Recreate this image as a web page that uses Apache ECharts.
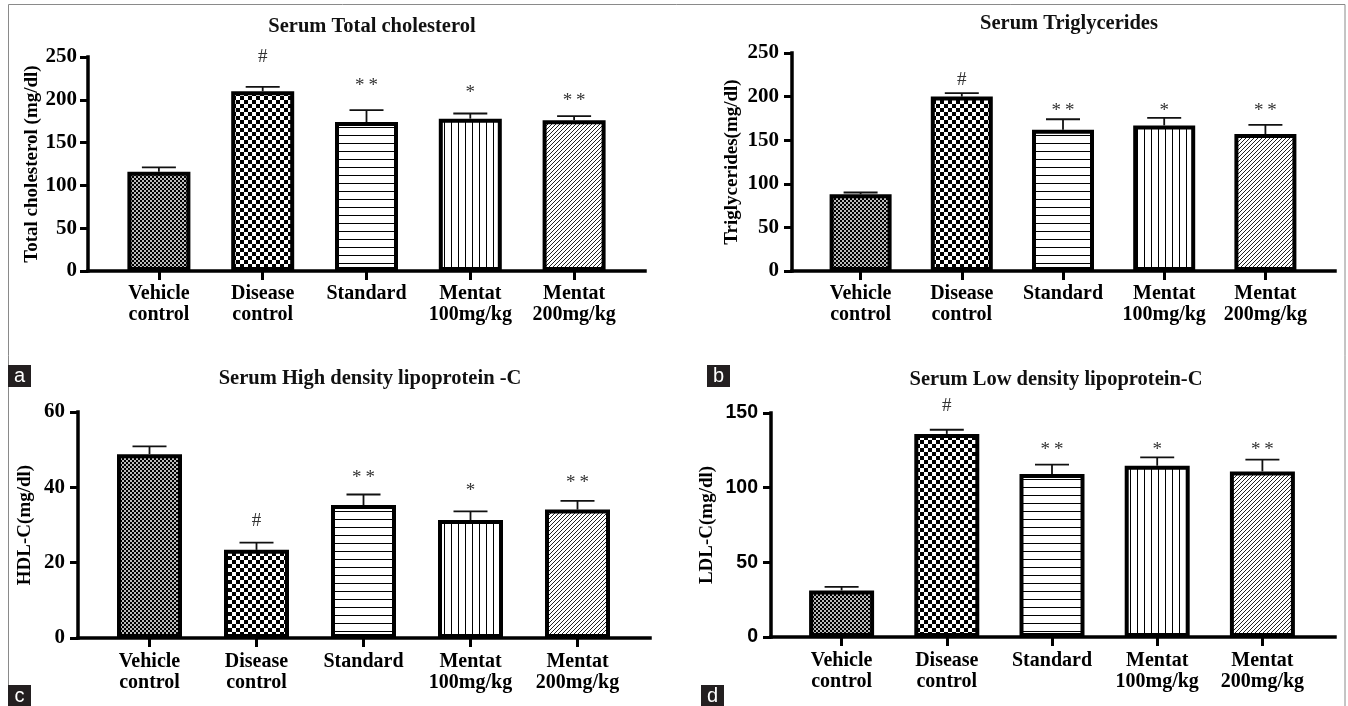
<!DOCTYPE html>
<html><head><meta charset="utf-8">
<script src="https://cdn.jsdelivr.net/npm/echarts@6/dist/echarts.min.js"></script>
<style>html,body{margin:0;padding:0;background:#fff}#c{width:1348px;height:706px}</style>
</head><body><div id="c"></div>
<script>
// ---------- data ----------
const categories = ['Vehicle\ncontrol', 'Disease\ncontrol', 'Standard', 'Mentat\n100mg/kg', 'Mentat\n200mg/kg'];
const sigMarks = ['', '#', '**', '*', '**'];

const tcTitle = 'Serum Total cholesterol';
const tcAxisName = 'Total cholesterol (mg/dl)';
const tcTicks = [0, 50, 100, 150, 200, 250];
const tcMean = [116, 210, 174, 178, 176];
const tcSem = [5, 5, 14, 6, 5];
const tcSigY = [null, 250, 221, 213, 203];

const tgTitle = 'Serum Triglycerides';
const tgAxisName = 'Triglycerides(mg/dl)';
const tgTicks = [0, 50, 100, 150, 200, 250];
const tgMean = [88, 200, 162, 167, 157];
const tgSem = [2, 4, 12, 8.5, 10.5];
const tgSigY = [null, 219, 188, 188, 188];

const hdlTitle = 'Serum High density lipoprotein -C';
const hdlAxisName = 'HDL-C(mg/dl)';
const hdlTicks = [0, 20, 40, 60];
const hdlMean = [48.8, 23.4, 35.3, 31.3, 34.1];
const hdlSem = [2.1, 1.9, 2.8, 2.3, 2.3];
const hdlSigY = [null, 31.1, 43.5, 40.1, 42.3];

const ldlTitle = 'Serum Low density lipoprotein-C';
const ldlAxisName = 'LDL-C(mg/dl)';
const ldlTicks = [0, 50, 100, 150];
const ldlMean = [31.2, 136, 109.2, 114.7, 110.9];
const ldlSem = [2.3, 2.8, 6.2, 5.6, 7.9];
const ldlSigY = [null, 154.5, 128, 128, 128];

// ---------- patterns ----------
function makePattern(size, draw) {
  const c = document.createElement('canvas');
  c.width = c.height = size;
  const g = c.getContext('2d');
  g.fillStyle = '#fff'; g.fillRect(0, 0, size, size);
  draw(g, size);
  return { image: c, repeat: 'repeat' };
}
const patterns = [
  makePattern(4, g => { g.fillStyle = '#bbb'; g.fillRect(0,0,4,4); g.fillStyle = '#000'; g.fillRect(0,0,2,2); g.fillRect(2,2,2,2); }),
  makePattern(8, g => { g.fillStyle = '#000'; g.fillRect(0,0,4,4); g.fillRect(4,4,4,4); }),
  makePattern(8, g => { g.fillStyle = '#000'; g.fillRect(0,7,8,1); }),
  makePattern(7, g => { g.fillStyle = '#000'; g.fillRect(3,0,1,7); }),
  makePattern(4, g => { g.fillStyle = '#222'; for (let i = 0; i < 4; i++) g.fillRect(i, 3 - i, 1, 1); })
];

const SERIF = 'Liberation Serif';
const SANS = 'Liberation Sans';

// ---------- layout per panel ----------
const panels = [
  { title: tcTitle, titleX: 367, titleY: 11, name: tcAxisName, ticks: tcTicks, mean: tcMean, sem: tcSem, sigY: tcSigY,
    ax: {left: 88, top: 57, width: 557, height: 214}, bx: {left: 107, width: 519}, barWidth: 63, nameGap: 46, labelMargin: 11, tickFont: SERIF, tickSize: 21, xMargin: 12 },
  { title: tgTitle, titleX: 1064, titleY: 8, name: tgAxisName, ticks: tgTicks, mean: tgMean, sem: tgSem, sigY: tgSigY,
    ax: {left: 792, top: 53, width: 543, height: 218}, bx: {left: 810, width: 506}, barWidth: 62, nameGap: 50, labelMargin: 13, tickFont: SERIF, tickSize: 21, xMargin: 12 },
  { title: hdlTitle, titleX: 365, titleY: 363, name: hdlAxisName, ticks: hdlTicks, mean: hdlMean, sem: hdlSem, sigY: hdlSigY,
    ax: {left: 78, top: 412, width: 572, height: 226}, bx: {left: 96, width: 535}, barWidth: 65, nameGap: 43, labelMargin: 13, tickFont: SERIF, tickSize: 21, xMargin: 13 },
  { title: ldlTitle, titleX: 1051, titleY: 364, name: ldlAxisName, ticks: ldlTicks, mean: ldlMean, sem: ldlSem, sigY: ldlSigY,
    ax: {left: 771, top: 413, width: 564, height: 224}, bx: {left: 789, width: 526}, barWidth: 65, nameGap: 54, labelMargin: 13, tickFont: SANS, tickSize: 19.5, xMargin: 13 }
];

const grid = [], xAxis = [], yAxis = [], series = [], title = [];
const black = '#000';

panels.forEach((p, k) => {
  const a = k * 2, b = k * 2 + 1;
  const ymin = p.ticks[0], ymax = p.ticks[p.ticks.length - 1], step = p.ticks[1] - p.ticks[0];
  title.push({ text: p.title, left: p.titleX, top: p.titleY, textAlign: 'center',
    textStyle: { fontFamily: SERIF, fontWeight: 'bold', fontSize: 20.5, color: '#111' } });
  grid.push({ left: p.ax.left, top: p.ax.top, width: p.ax.width, height: p.ax.height, containLabel: false });
  grid.push({ left: p.bx.left, top: p.ax.top, width: p.bx.width, height: p.ax.height, containLabel: false });
  // axis frame grid
  xAxis.push({ type: 'value', gridIndex: a, min: 0, max: 1,
    axisLine: { show: true, onZero: false, lineStyle: { color: black, width: 3.5, cap: 'square' } },
    axisTick: { show: false }, axisLabel: { show: false }, splitLine: { show: false } });
  yAxis.push({ type: 'value', gridIndex: a, min: ymin, max: ymax, interval: step,
    axisLine: { show: true, lineStyle: { color: black, width: 3.5, cap: 'square' } },
    axisTick: { show: true, length: 8, lineStyle: { color: black, width: 3 } },
    axisLabel: { margin: p.labelMargin, fontFamily: p.tickFont, fontWeight: 'bold', fontSize: p.tickSize, color: black },
    splitLine: { show: false },
    name: p.name, nameLocation: 'middle', nameGap: p.nameGap,
    nameTextStyle: { fontFamily: SERIF, fontWeight: 'bold', fontSize: 19, color: black } });
  // bar grid
  xAxis.push({ type: 'category', gridIndex: b, data: categories, boundaryGap: true,
    axisLine: { show: false },
    axisTick: { show: true, alignWithLabel: true, length: 9, lineStyle: { color: black, width: 3 } },
    axisLabel: { interval: 0, margin: p.xMargin, fontFamily: SERIF, fontWeight: 'bold', fontSize: 20, lineHeight: 21, color: black } });
  yAxis.push({ type: 'value', gridIndex: b, min: ymin, max: ymax, show: false });

  series.push({ type: 'bar', xAxisIndex: b, yAxisIndex: b, barWidth: p.barWidth, z: 3, silent: true,
    itemStyle: { borderColor: black, borderWidth: 4 },
    data: p.mean.map((v, i) => ({ value: v, itemStyle: { color: patterns[i] } })) });

  series.push({ type: 'custom', xAxisIndex: b, yAxisIndex: b, z: 2, silent: true,
    data: p.mean.map((m, i) => [i, m, m + p.sem[i]]),
    encode: { x: 0, y: [1, 2] },
    renderItem: (params, api) => {
      const x = api.value(0);
      const lo = api.coord([x, api.value(1)]);
      const hi = api.coord([x, api.value(2)]);
      const hw = 17;
      return { type: 'group', children: [
        { type: 'line', shape: { x1: lo[0], y1: lo[1], x2: hi[0], y2: hi[1] }, style: { stroke: '#111', lineWidth: 1.8 } },
        { type: 'line', shape: { x1: hi[0] - hw, y1: hi[1], x2: hi[0] + hw, y2: hi[1] }, style: { stroke: '#111', lineWidth: 1.8 } }
      ]};
    } });

  const sigData = [];
  p.sigY.forEach((y, i) => { if (y !== null && sigMarks[i]) sigData.push([i, y]); });
  series.push({ type: 'custom', xAxisIndex: b, yAxisIndex: b, z: 5, silent: true, clip: false,
    data: sigData, encode: { x: 0, y: 1 },
    renderItem: (params, api) => {
      const i = api.value(0);
      const t = sigMarks[i];
      const pt = api.coord([i, api.value(1)]);
      const star = t.indexOf('*') >= 0;
      return { type: 'text', x: pt[0], y: pt[1] + (star ? 4 : 0),
        style: { text: star ? t.split('').join('\u2009') : t, fontFamily: SERIF, fontSize: 19, fill: '#333', align: 'center', verticalAlign: 'middle' } };
    } });
});

function letterBox(ch, x, y, h) {
  return { type: 'group', left: x, top: y, children: [
    { type: 'rect', shape: { x: 0, y: 0, width: 23, height: h }, style: { fill: '#231f20' } },
    { type: 'text', x: 11.5, y: 11, style: { text: ch, fill: '#fff', font: '20px "Liberation Sans"', align: 'center', verticalAlign: 'middle' } }
  ]};
}

const chart = echarts.init(document.getElementById('c'), null, { renderer: 'canvas' });
chart.setOption({
  animation: false,
  backgroundColor: '#fff',
  title, grid, xAxis, yAxis, series,
  graphic: [
    { type: 'rect', z: -10, shape: { x: 8.5, y: 4.5, width: 1336.5, height: 720 }, style: { fill: 'none', stroke: '#8a8a8a', lineWidth: 1 } },
    letterBox('a', 8, 365, 22),
    letterBox('b', 707, 365, 22),
    letterBox('c', 8, 685, 24),
    letterBox('d', 701, 685, 24)
  ]
});
</script></body></html>
